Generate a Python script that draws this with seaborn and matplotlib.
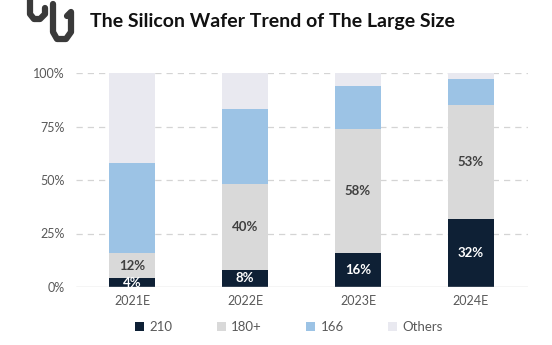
import matplotlib
matplotlib.use("Agg")
import matplotlib.pyplot as plt
from matplotlib.patches import Patch
import seaborn as sns
import numpy as np

years = ["2021E", "2022E", "2023E", "2024E"]
series_names = ["210", "180+", "166", "Others"]
share_210 = [4, 8, 16, 32]
share_180 = [12, 40, 58, 53]
share_166 = [42, 35, 20, 12]
share_others = [42, 17, 6, 3]
colors = ["#0e2035", "#d9d9d9", "#9cc3e5", "#e9e9f0"]
label_series = {"210": "white", "180+": "#404040"}
ytick_labels = ["0%", "25%", "50%", "75%", "100%"]

sns.set_theme(style="white")
plt.rcParams["font.family"] = ["Lato", "DejaVu Sans"]

fig = plt.figure(figsize=(5.52, 3.45), dpi=100)
ax = fig.add_axes([75.5 / 552, 1 - 287 / 345, 452 / 552, 214 / 345])

data = [share_210, share_180, share_166, share_others]
bottom = np.zeros(len(years))
for name, vals, col in zip(series_names, data, colors):
    sns.barplot(x=years, y=vals, bottom=bottom, color=col, width=0.4,
                saturation=1, ax=ax, edgecolor="none", linewidth=0, zorder=3)
    if name in label_series:
        for i, v in enumerate(vals):
            ax.text(i, bottom[i] + v / 2, f"{v}%", ha="center", va="center",
                    color=label_series[name], fontsize=9.5, fontweight="bold",
                    zorder=5)
    bottom += np.array(vals)

ax.set_ylim(0, 100)
ax.set_xlim(-0.5, 3.5)
ax.set_yticks([0, 25, 50, 75, 100])
ax.set_yticklabels(ytick_labels)
for y in [25, 50, 75, 100]:
    ax.axhline(y, color="#d4d4d4", linestyle=(0, (5, 4)), linewidth=0.9, zorder=1)
ax.axhline(0, color="#d0d0d0", linewidth=1.0, zorder=4)
for s in ax.spines.values():
    s.set_visible(False)
ax.tick_params(axis="both", length=0, labelsize=9, colors="#595959", pad=6)
ax.tick_params(axis="y", pad=8)
ax.set_xlabel("")
ax.set_ylabel("")

handles = [Patch(facecolor=c, edgecolor="none") for c in colors]
fig.legend(handles, series_names, loc="center", bbox_to_anchor=(289 / 552, 1 - 327 / 345),
           ncol=4, frameon=False, fontsize=9.5, labelcolor="#595959",
           handlelength=0.7, handleheight=0.7, handletextpad=0.4, columnspacing=3.35)

fig.text(90 / 552, 1 - 22 / 345, "The Silicon Wafer Trend of The Large Size",
         fontsize=14, fontweight="bold", color="#111111", va="center", ha="left")

# hook-shaped logo mark
logo = fig.add_axes([0, 1 - 45 / 345, 90 / 552, 45 / 345])
logo.set_xlim(0, 90)
logo.set_ylim(45, 0)
logo.axis("off")
logo.plot([30, 30, 34, 40, 45, 45], [0, 14, 19, 19, 14, 8], color="#3a3a3a", lw=4.5,
          solid_capstyle="round", solid_joinstyle="round")
logo.plot([53, 53, 57, 66, 71, 71, 67], [4, 32, 39, 39, 32, 12, 16], color="#3a3a3a", lw=4.5,
          solid_capstyle="round", solid_joinstyle="round")

fig.savefig("out.png", dpi=100, facecolor="white")
